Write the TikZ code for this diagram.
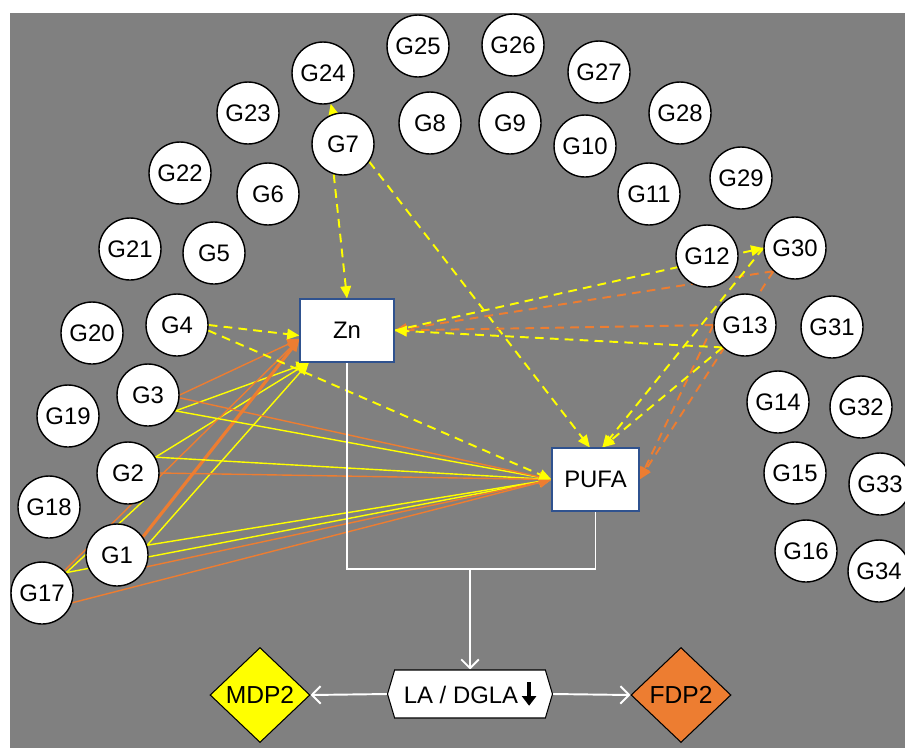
\documentclass[tikz,border=0pt]{standalone}
\usepackage{fontspec}
\setmainfont{Liberation Sans}
\usetikzlibrary{shapes.geometric,shapes.symbols,arrows.meta}

\definecolor{bggray}{RGB}{128,128,128}
\definecolor{ylw}{RGB}{255,255,0}
\definecolor{org}{RGB}{237,125,49}
\definecolor{boxblue}{RGB}{47,82,143}

\pgfdeclarelayer{bg}
\pgfdeclarelayer{edges}
\pgfsetlayers{bg,edges,main}

\begin{document}
\begin{tikzpicture}[
    x=0.02cm, y=-0.02cm,
    font=\fontsize{13.6}{15}\selectfont,
    gene/.style={circle, draw, fill=white, line width=0.8pt,
                 minimum size=1.24cm, inner sep=0pt},
    block/.style={draw=boxblue, fill=white, line width=0.6pt,
                  minimum height=1.26cm, inner sep=0pt},
    outcome/.style={diamond, draw, line width=0.6pt, font=\fontsize{14}{16}\selectfont,
                    minimum width=2cm, minimum height=1.9cm, inner sep=0pt},
    yl/.style={ylw, line width=0.8pt, -{Triangle[length=7pt,width=6pt]}},
    og/.style={org, line width=0.8pt, -{Triangle[length=7pt,width=6pt]}},
    dsh/.style={line width=1.1pt, dash pattern=on 5pt off 3.5pt},
    flow/.style={white, line width=1.1pt, -{Straight Barb[length=5pt,width=10pt]}}
]

\useasboundingbox (0,0) rectangle (905,748);
\begin{pgfonlayer}{bg}
\fill[bggray] (10,13) rectangle (905,748);
\end{pgfonlayer}

% --- GENES ---
\foreach \n/\x/\y in {1/117/555, 2/128/473, 3/148/395, 4/177/325,
    5/214/253, 6/268/194, 7/343/144, 8/430/123, 9/510/123, 10/585/146,
    11/649/194, 12/707/256, 13/745/325, 14/778/402, 15/795/473,
    16/806/551, 17/42/593, 18/49/507, 19/68/416, 20/92/333, 21/130/249,
    22/180/173, 23/248/113, 24/323/73, 25/418/46, 26/513/45, 27/599/72,
    28/680/113, 29/741/178, 30/795/248, 31/832/327, 32/861/407,
    33/880/484, 34/879/571}
  \node[gene] (G\n) at (\x,\y) {G\n};

% --- ZN / PUFA ---
\node[block, minimum width=1.88cm] (Zn) at (347,330.5) {Zn};
\node[block, minimum width=1.74cm] (PUFA) at (595.5,479.5) {PUFA};

% --- OUTCOME ---
\node[shape=signal, signal to=west and east, signal pointer angle=147,
      draw, fill=white, line width=0.6pt, minimum width=3.3cm,
      minimum height=0.96cm, inner sep=1pt] (lahex) at (470,694)
  {LA / DGLA\,\tikz[baseline=0pt]\draw[line width=2.3pt,
      -{Triangle[length=5.5pt,width=8pt]}] (0,0.42cm) -- (0,-0.05cm);};
\node[outcome, fill=ylw] (mdp) at (260,695) {MDP2};
\node[outcome, fill=org] (fdp) at (681,695) {FDP2};

\begin{pgfonlayer}{edges}
% solid, to Zn
\draw[yl] (G3.330) -- (Zn.220);
\draw[yl] (G2.30) -- (Zn.220);
\draw[yl] (G1.18) -- (Zn.220);
\draw[og] (G3.0) -- (Zn.190);
\draw[og] (G17.45) -- (Zn.190);
\draw[og, line width=1.8pt] (G1.35) -- (Zn.190);
% solid, to PUFA
\draw[yl] (G3.330) -- (PUFA.west);
\draw[yl] (G2.30) -- (PUFA.west);
\draw[yl] (G1.18) -- (PUFA.west);
\draw[yl] (G17.40) -- (PUFA.west);
\draw[og] (G3.355) -- (PUFA.west);
\draw[og] (G2.0) -- (PUFA.west);
\draw[og] (G1.338) -- (PUFA.west);
\draw[og] (G17.342) -- (PUFA.west);
\draw[ylw, line width=0.8pt] (G17.40) -- (G2.300);

% dashed, left
\draw[yl, dsh] (G7.108) -- (G24);
\draw[yl, dsh] (G7.253) -- (Zn.north);
\draw[yl, dsh] (G7.326) -- (PUFA.100);
\draw[yl, dsh] (G4.0) -- (Zn.186);
\draw[yl, dsh] (G4.350) -- (PUFA.west);

% dashed, right
\draw[og, dsh] (G30.227) -- (Zn.east);
\draw[og, dsh] (G13.180) -- (Zn.east);
\draw[og, dsh] (G30.227) -- (PUFA.east);
\draw[og, dsh] (G13.180) -- (PUFA.east);
\draw[yl, dsh, {Triangle[length=7pt,width=6pt]}-] (G30.west) -- (Zn.east);
\draw[yl, dsh] (G13.225) -- (Zn.east);
\draw[yl, dsh] (G30.west) -- (PUFA.78);
\draw[yl, dsh] (G13.225) -- (PUFA.78);

% white flow
\coordinate (join) at (lahex.north |- 0,569);
\draw[white, line width=1.1pt] (Zn.south) |- (join) -| (PUFA.south);
\draw[flow] (join) -- (lahex.north);
\draw[flow] (lahex.west) -- (mdp.east);
\draw[flow] (lahex.east) -- (fdp.west);
\end{pgfonlayer}

\end{tikzpicture}
\end{document}
